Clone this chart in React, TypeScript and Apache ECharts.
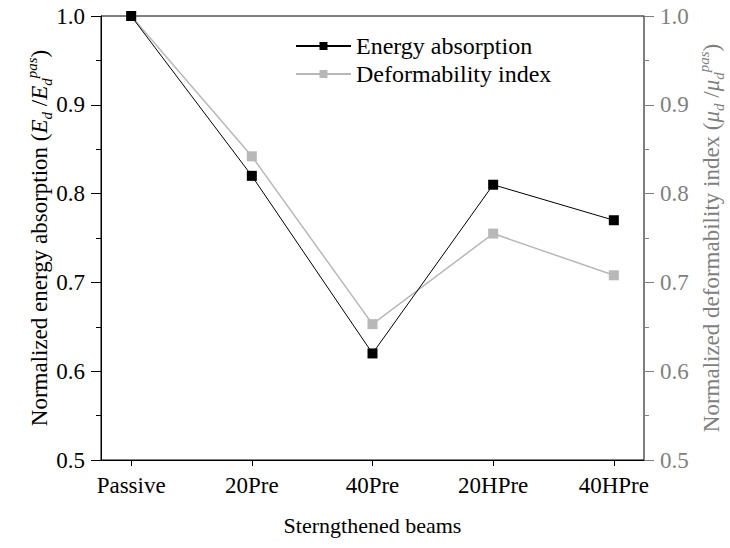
import React, { useEffect, useRef } from "react";
import * as echarts from "echarts";

const categories = ["Passive", "20Pre", "40Pre", "20HPre", "40HPre"];
const energyAbsorption = [1.0, 0.82, 0.62, 0.81, 0.77];
const deformabilityIndex = [1.0, 0.842, 0.653, 0.755, 0.708];
const yTicks = [0.5, 0.6, 0.7, 0.8, 0.9, 1.0];

const FONT = "Liberation Serif";
const GRAY = "#7f7f7f";
const LIGHT = "#b8b8b8";

export default function App() {
  const ref = useRef<HTMLDivElement>(null);
  useEffect(() => {
    if (!ref.current) return;
    const chart = echarts.init(ref.current, undefined, { renderer: "svg" });
    const idx = categories.map((_, i) => i);
    const richBase = (color: string) => ({
      n: { fontFamily: FONT, fontSize: 23, color, lineHeight: 30, verticalAlign: "middle" as const },
      i: { fontFamily: FONT, fontSize: 23, color, fontStyle: "italic" as const, lineHeight: 30, verticalAlign: "middle" as const },
      sub: { fontFamily: FONT, fontSize: 15, color, fontStyle: "italic" as const, lineHeight: 30, verticalAlign: "bottom" as const },
      sup: { fontFamily: FONT, fontSize: 15, color, fontStyle: "italic" as const, lineHeight: 30, verticalAlign: "top" as const },
    });
    chart.setOption({
      animation: false,
      backgroundColor: "#fff",
      grid: {
        left: 101,
        right: 86,
        top: 16,
        bottom: 88,
        outerBoundsMode: "none",
        containLabel: false,
        show: true,
        borderColor: "#000",
        borderWidth: 1,
      },
      legend: {
        orient: "vertical",
        left: 290,
        top: 29,
        itemWidth: 55,
        itemHeight: 10,
        itemGap: 4,
        textStyle: { fontFamily: FONT, fontSize: 24, color: "#000" },
        data: ["Energy absorption", "Deformability index"],
      },
      xAxis: {
        type: "value",
        min: -0.25,
        max: 4.25,
        name: "Sterngthened beams",
        nameLocation: "middle",
        nameGap: 54,
        nameMoveOverlap: false,
        nameTextStyle: { fontFamily: FONT, fontSize: 22, color: "#000" },
        splitLine: { show: false },
        axisLine: { show: true, onZero: false, lineStyle: { color: "#000", width: 1 } },
        axisTick: { show: true, length: 6, customValues: idx, lineStyle: { color: "#000" } },
        axisLabel: {
          customValues: idx,
          margin: 14,
          fontFamily: FONT,
          fontSize: 23,
          color: "#000",
          formatter: (v: number) => categories[Math.round(v)] ?? "",
        },
      },
      yAxis: [
        {
          type: "value",
          min: 0.5,
          max: 1.0,
          interval: 0.1,
          position: "left",
          name: "{n|Normalized energy absorption (}{i|E}{sub|d}{n| /}{i|E}{sub|d}{sup|pas}{n|)}",
          nameLocation: "middle",
          nameRotate: 90,
          nameGap: 47,
          nameMoveOverlap: false,
          nameTextStyle: { rich: richBase("#000") },
          splitLine: { show: false },
          axisLine: { show: true, onZero: false, lineStyle: { color: "#000", width: 1 } },
          axisTick: { show: true, length: 10, lineStyle: { color: "#000" } },
          minorTick: { show: true, splitNumber: 2, length: 5, lineStyle: { color: "#000" } },
          axisLabel: {
            margin: 16,
            fontFamily: FONT,
            fontSize: 23,
            color: "#000",
            formatter: (v: number) => v.toFixed(1),
            customValues: yTicks,
          },
        },
        {
          type: "value",
          min: 0.5,
          max: 1.0,
          interval: 0.1,
          position: "right",
          name: "{n|Normalized deformability index (}{i|μ}{sub|d}{n| /}{i|μ}{sub|d}{sup|pas}{n|)}",
          nameLocation: "middle",
          nameRotate: 90,
          nameGap: 52,
          nameMoveOverlap: false,
          nameTextStyle: { rich: richBase(GRAY) },
          splitLine: { show: false },
          axisLine: { show: true, onZero: false, lineStyle: { color: GRAY, width: 1 } },
          axisTick: { show: true, length: 10, lineStyle: { color: GRAY } },
          minorTick: { show: true, splitNumber: 2, length: 5, lineStyle: { color: GRAY } },
          axisLabel: {
            margin: 16,
            fontFamily: FONT,
            fontSize: 23,
            color: GRAY,
            formatter: (v: number) => v.toFixed(1),
            customValues: yTicks,
          },
        },
      ],
      series: [
        {
          name: "Energy absorption",
          type: "line",
          yAxisIndex: 0,
          data: energyAbsorption.map((v, i) => [i, v]),
          symbol: "rect",
          symbolSize: 10,
          lineStyle: { color: "#000", width: 1 },
          itemStyle: { color: "#000" },
          z: 3,
        },
        {
          name: "Deformability index",
          type: "line",
          yAxisIndex: 1,
          data: deformabilityIndex.map((v, i) => [i, v]),
          symbol: "rect",
          symbolSize: 10,
          lineStyle: { color: LIGHT, width: 1.5 },
          itemStyle: { color: LIGHT },
          z: 2,
        },
      ],
    });
    return () => chart.dispose();
  }, []);
  return (
    <div
      ref={ref}
      style={{ position: "fixed", left: 0, top: 0, width: 730, height: 548 }}
    />
  );
}
